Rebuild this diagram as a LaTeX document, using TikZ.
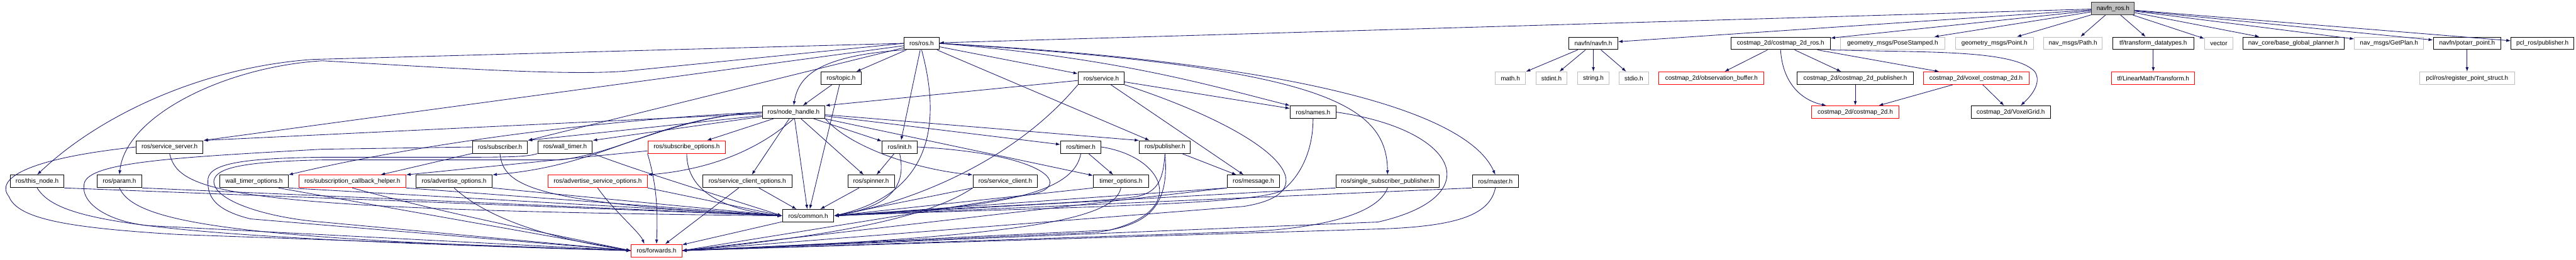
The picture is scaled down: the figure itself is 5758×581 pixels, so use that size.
\documentclass[tikz,border=0pt]{standalone}
\usepackage{fontspec}
\setmainfont{Liberation Sans}
\usetikzlibrary{arrows.meta}
\definecolor{midnight}{HTML}{191970}
\definecolor{boxgrey}{HTML}{BFBFBF}
\begin{document}
\begin{tikzpicture}[x=1pt, y=-1pt,
    hdr/.style={rectangle, draw=black, line width=1.4pt, fill=white, minimum height=28pt, inner sep=1pt, font=\fontsize{14}{16}\selectfont},
    syshdr/.style={hdr, draw=boxgrey},
    cuthdr/.style={hdr, draw=red},
    mainhdr/.style={hdr, fill=boxgrey, draw=black!80},
    inc/.style={draw=midnight, line width=1.2pt, -{Latex[length=10pt,width=7pt]}}
]
\useasboundingbox (0,0) rectangle (5758,581);
\node[mainhdr, minimum width=96pt] (navfnros) at (4723,19) {navfn\_ros.h};
\node[hdr, minimum width=78pt] (ros) at (2060,97) {ros/ros.h};
\node[hdr, minimum width=109pt] (navfn) at (3561.5,97) {navfn/navfn.h};
\node[hdr, minimum width=222pt] (cmros) at (3980,97) {costmap\_2d/costmap\_2d\_ros.h};
\node[syshdr, minimum width=233pt] (pose) at (4230.5,97) {geometry\_msgs/PoseStamped.h};
\node[syshdr, minimum width=174pt] (point) at (4458,97) {geometry\_msgs/Point.h};
\node[syshdr, minimum width=131pt] (path) at (4633.5,97) {nav\_msgs/Path.h};
\node[hdr, minimum width=182pt] (tfdt) at (4813,97) {tf/transform\_datatypes.h};
\node[syshdr, minimum width=63pt] (vector) at (4959.5,97) {vector};
\node[hdr, minimum width=227pt] (bgp) at (5126.5,97) {nav\_core/base\_global\_planner.h};
\node[syshdr, minimum width=154pt] (getplan) at (5340,97) {nav\_msgs/GetPlan.h};
\node[hdr, minimum width=151pt] (potarr) at (5514.5,97) {navfn/potarr\_point.h};
\node[hdr, minimum width=140pt] (pclpub) at (5683,97) {pcl\_ros/publisher.h};
\node[hdr, minimum width=90pt] (topic) at (1880,175) {ros/topic.h};
\node[hdr, minimum width=103pt] (service) at (2461.5,175) {ros/service.h};
\node[syshdr, minimum width=68pt] (math) at (3376,175) {math.h};
\node[syshdr, minimum width=70pt] (stdint) at (3468,175) {stdint.h};
\node[syshdr, minimum width=71pt] (string) at (3561.5,175) {string.h};
\node[syshdr, minimum width=66pt] (stdio) at (3652,175) {stdio.h};
\node[cuthdr, minimum width=235pt] (obsbuf) at (3825.5,175) {costmap\_2d/observation\_buffer.h};
\node[hdr, minimum width=260pt] (cmpub) at (4147,175) {costmap\_2d/costmap\_2d\_publisher.h};
\node[cuthdr, minimum width=236pt] (voxcm) at (4417,175) {costmap\_2d/voxel\_costmap\_2d.h};
\node[cuthdr, minimum width=186pt] (lmtf) at (4813,175) {tf/LinearMath/Transform.h};
\node[syshdr, minimum width=213pt] (regpt) at (5514.5,175) {pcl/ros/register\_point\_struct.h};
\node[hdr, minimum width=140pt] (nh) at (1774,251) {ros/node\_handle.h};
\node[hdr, minimum width=102pt] (names) at (2935,251) {ros/names.h};
\node[cuthdr, minimum width=196pt] (costmap) at (4147,251) {costmap\_2d/costmap\_2d.h};
\node[hdr, minimum width=177pt] (voxgrid) at (4494.5,251) {costmap\_2d/VoxelGrid.h};
\node[hdr, minimum width=150pt] (servserver) at (379,329) {ros/service\_server.h};
\node[hdr, minimum width=123pt] (subscriber) at (1117.5,329) {ros/subscriber.h};
\node[hdr, minimum width=122pt] (walltimer) at (1263,329) {ros/wall\_timer.h};
\node[cuthdr, minimum width=174pt] (subopts) at (1535,329) {ros/subscribe\_options.h};
\node[hdr, minimum width=78pt] (init) at (2011,329) {ros/init.h};
\node[hdr, minimum width=90pt] (timer) at (2416,329) {ros/timer.h};
\node[hdr, minimum width=114pt] (publisher) at (2604,329) {ros/publisher.h};
\node[hdr, minimum width=120pt] (thisnode) at (83,406) {ros/this\_node.h};
\node[hdr, minimum width=100pt] (param) at (267,406) {ros/param.h};
\node[hdr, minimum width=152pt] (wtopts) at (568,406) {wall\_timer\_options.h};
\node[cuthdr, minimum width=239pt] (subcb) at (787.5,406) {ros/subscription\_callback\_helper.h};
\node[hdr, minimum width=170pt] (advopts) at (1015,406) {ros/advertise\_options.h};
\node[cuthdr, minimum width=222pt] (advsrvopts) at (1336,406) {ros/advertise\_service\_options.h};
\node[hdr, minimum width=199pt] (scopts) at (1670.5,406) {ros/service\_client\_options.h};
\node[hdr, minimum width=104pt] (spinner) at (1947,406) {ros/spinner.h};
\node[hdr, minimum width=144pt] (sclient) at (2247,406) {ros/service\_client.h};
\node[hdr, minimum width=123pt] (topts) at (2505.5,406) {timer\_options.h};
\node[hdr, minimum width=117pt] (message) at (2801.5,406) {ros/message.h};
\node[hdr, minimum width=231pt] (ssp) at (3101.5,406) {ros/single\_subscriber\_publisher.h};
\node[hdr, minimum width=103pt] (master) at (3342.5,406) {ros/master.h};
\node[hdr, minimum width=115pt] (common) at (1806.5,483) {ros/common.h};
\node[cuthdr, minimum width=113pt] (forwards) at (1467.5,561) {ros/forwards.h};

\draw[inc] (navfnros) edge (ros) edge (navfn) edge (cmros) edge (pose) edge (point) edge (path) edge (tfdt) edge (vector) edge (bgp) edge (getplan) edge (potarr) edge (pclpub);
\draw[inc] (navfn) edge (math) edge (stdint) edge (string) edge (stdio);
\draw[inc] (cmros) edge (obsbuf) edge (cmpub) edge (voxcm);
\draw[inc] (cmros.south) .. controls (3985,190) and (4030,225) .. ([xshift=34pt]costmap.north west);
\draw[inc] (cmros.south east) .. controls (4300,118) and (4500,110) .. (4548,160) .. controls (4565,185) and (4540,215) .. ([xshift=22pt]voxgrid.north);
\draw[inc] (cmpub) edge (costmap);
\draw[inc] (voxcm) edge (costmap) edge (voxgrid);
\draw[inc] (tfdt) edge (lmtf);
\draw[inc] (potarr) edge (regpt);

\draw[inc] (ros) edge (topic) edge (service) edge (init) edge (publisher) edge (servserver.north east) edge (subscriber.north east);
\draw[inc] (ros.south west) .. controls (1830,125) and (1785,170) .. (nh.north);
\draw[inc] (ros.south) .. controls (2100,260) and (2095,430) .. (common.east);
\draw[inc] (ros.west) -- (700,133) .. controls (450,150) and (220,260) .. (thisnode.north);
\draw[inc] (ros.west) -- (1420,157) .. controls (1300,172) and (1000,152) .. (720,136) .. controls (500,150) and (280,260) .. (param.north);
\draw[inc] (ros.east) .. controls (2500,130) and (2700,190) .. (names.north west);
\draw[inc] (ros.east) .. controls (2900,140) and (3280,250) .. (master.north);
\draw[inc] (ros.east) .. controls (2950,150) and (3100,230) .. (ssp.north);

\draw[inc] (nh) edge (servserver.north east) edge (subscriber.north east) edge (walltimer.north east) edge (subopts) edge (scopts) edge (common) edge (spinner) edge (init) edge (timer) edge (publisher.north west) edge (topts);
\draw[inc] (nh.west) .. controls (1300,270) and (900,330) .. (wtopts.north east);
\draw[inc] (nh.west) .. controls (1450,265) and (1360,370) .. (advopts.north east);
\draw[inc] (nh.south) .. controls (1690,340) and (1580,380) .. (advsrvopts.north east);
\draw[inc] (nh.south east) .. controls (1900,330) and (2050,380) .. (sclient.north west);
\draw[inc] (nh.west) .. controls (1500,262) and (1380,345) .. (1250,358) -- (720,358) .. controls (530,362) and (482,378) .. (478,405) .. controls (476,450) and (600,488) .. (720,497) -- (forwards.west);

\draw[inc] (topic) edge (nh) edge (common);
\draw[inc] (service) edge (nh.north east) edge (names) edge (message);
\draw[inc] (service.south west) .. controls (2250,380) and (2000,460) .. (common.east);
\draw[inc] (service.south east) .. controls (2850,300) and (2980,430) .. (2780,462) -- (forwards.east);
\draw[inc] (init) edge (spinner);
\draw[inc] (init.south) .. controls (2025,410) and (2000,460) .. (common.east);
\draw[inc] (init.east) .. controls (2350,345) and (2400,420) .. (2300,436) -- (forwards.east);

\draw[inc] (subscriber) edge (subcb);
\draw[inc] (subscriber.south) .. controls (1125,420) and (1200,455) .. (common.west);
\draw[inc] (subscriber.west) -- (720,334) .. controls (400,352) and (195,362) .. (188,412) .. controls (180,455) and (240,495) .. (330,505) -- (forwards.west);
\draw[inc] (walltimer.south west) .. controls (1180,352) and (1120,352) .. (1000,352) -- (720,352) .. controls (550,354) and (470,365) .. (465,400) .. controls (462,440) and (480,470) .. (560,490) -- (forwards.west);
\draw[inc] (walltimer.south east) .. controls (1420,380) and (1550,420) .. (common.west);
\draw[inc] (servserver.south) .. controls (400,430) and (500,470) .. (common.west);
\draw[inc] (servserver.west) .. controls (60,355) and (-12,400) .. (20,440) .. controls (40,490) and (150,510) .. (400,525) -- (forwards.west);
\draw[inc] (subopts) edge (subcb.north east);
\draw[inc] (subopts.south) .. controls (1535,430) and (1620,470) .. (common.west);
\draw[inc] (subopts.south west) .. controls (1470,420) and (1470,480) .. (forwards.north);

\draw[inc] (timer) edge (topts);
\draw[inc] (timer.south) .. controls (2400,430) and (2250,465) .. (common.east);
\draw[inc] (timer.east) .. controls (2600,350) and (2660,470) .. (2480,515) -- (forwards.east);
\draw[inc] (publisher) edge (message);
\draw[inc] (publisher.south) .. controls (2600,400) and (2590,430) .. (2540,440) .. controls (2450,455) and (2100,465) .. (common.east);
\draw[inc] (publisher.south) .. controls (2615,470) and (2560,505) .. (2450,520) -- (forwards.east);

\draw[inc] (thisnode.south east) -- (common.west);
\draw[inc] (thisnode.south) .. controls (130,495) and (300,530) .. (forwards.west);
\draw[inc] (param.south east) -- (common.west);
\draw[inc] (param.south) .. controls (300,495) and (500,535) .. (forwards.west);
\draw[inc] (wtopts.south east) -- (common.west);
\draw[inc] ([xshift=-22pt]wtopts.south east) -- (forwards.west);
\draw[inc] (subcb.south east) -- (common.west);
\draw[inc] (subcb.south) .. controls (950,465) and (1110,500) .. (forwards.west);
\draw[inc] (advopts.south east) -- (common.west);
\draw[inc] (advopts.south) .. controls (1080,480) and (1200,530) .. (forwards.west);
\draw[inc] (advsrvopts.south east) -- (common.west);
\draw[inc] (advsrvopts.south) .. controls (1370,470) and (1430,520) .. ([xshift=30pt]forwards.north west);
\draw[inc] (scopts) edge (common) edge (forwards);
\draw[inc] (spinner) edge (common);
\draw[inc] (sclient.south west) -- (common.east);
\draw[inc] (sclient.south west) .. controls (2100,470) and (1950,520) .. (forwards.east);
\draw[inc] (topts.south west) -- (common.east);
\draw[inc] (topts.south) .. controls (2490,490) and (2300,530) .. (forwards.east);
\draw[inc] (message.south west) -- (common.east);
\draw[inc] (message.south west) -- (forwards.east);
\draw[inc] (ssp.south west) -- (common.east);
\draw[inc] (ssp.south) .. controls (3080,480) and (2950,510) .. (2800,518) -- (forwards.east);
\draw[inc] (master.south west) -- (common.east);
\draw[inc] (master.south) .. controls (3330,480) and (3260,505) .. (3100,512) -- (forwards.east);
\draw[inc] (names.south) .. controls (2935,340) and (2905,395) .. (2868,425) .. controls (2820,460) and (2300,465) .. (common.east);
\draw[inc] (names.east) .. controls (3260,290) and (3330,440) .. (3080,497) -- (forwards.east);
\draw[inc] (common) -- (forwards);
\end{tikzpicture}
\end{document}
